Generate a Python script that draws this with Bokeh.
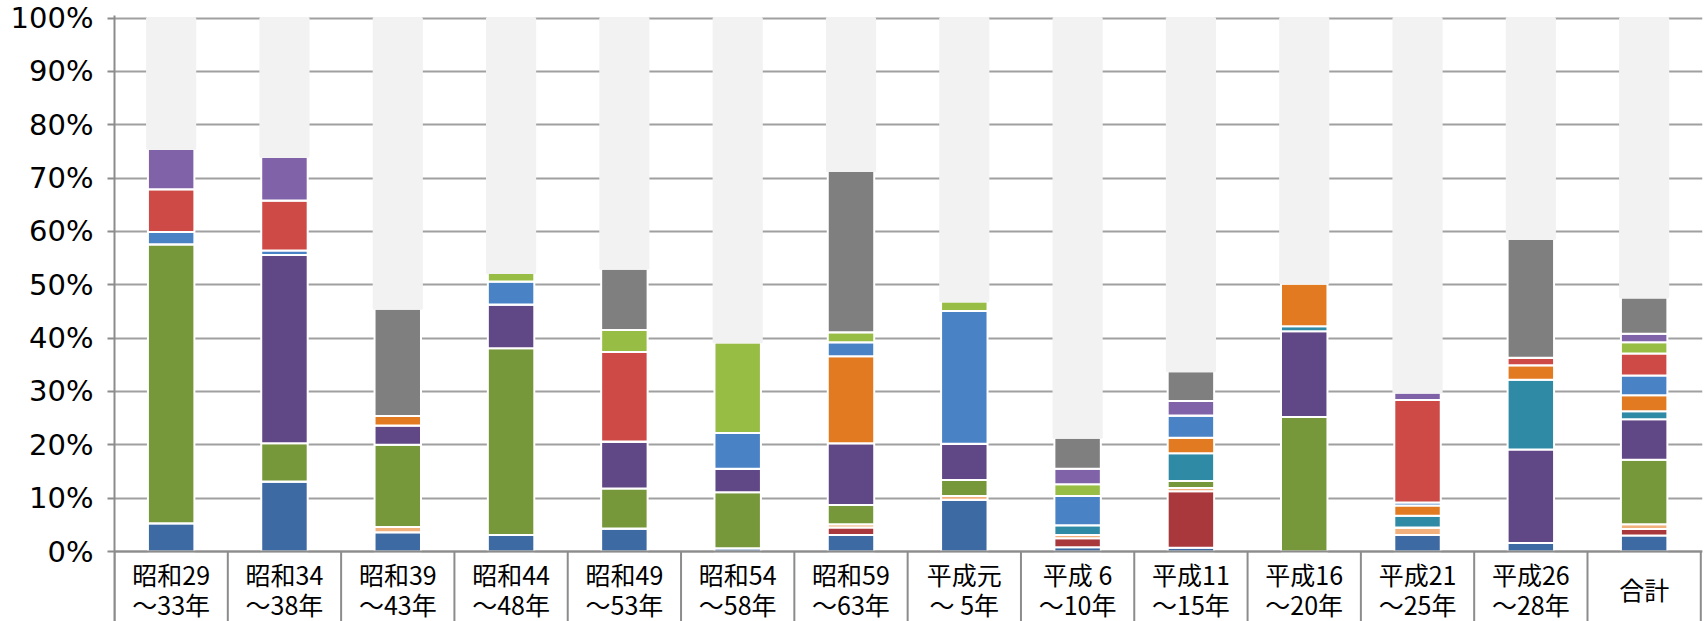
from bokeh.plotting import figure
from bokeh.models import ColumnDataSource, FixedTicker, Range1d, Span
from bokeh.embed import file_html
from bokeh.resources import INLINE
from bokeh.core.properties import value

# ---- data -------------------------------------------------------------
label_line1 = ["昭和29", "昭和34", "昭和39", "昭和44", "昭和49", "昭和54", "昭和59",
               "平成元", "平成 6", "平成11", "平成16", "平成21", "平成26"]
label_line2 = ["～33年", "～38年", "～43年", "～48年", "～53年", "～58年", "～63年",
               "～ 5年", "～10年", "～15年", "～20年", "～25年", "～28年"]
total_label = "合計"

s1 = [5.3, 13.1, 3.6, 3.1, 4.3, 0.6, 3.1, 9.7, 0.8, 0.7, 0.0, 3.1, 1.6, 3.0]
s2 = [0.0, 0.0, 0.0, 0.0, 0.0, 0.0, 1.4, 0.0, 1.7, 10.6, 0.0, 0.0, 0.0, 1.2]
s3 = [0.0, 0.0, 1.0, 0.0, 0.0, 0.0, 0.6, 0.7, 0.6, 0.6, 0.0, 1.4, 0.0, 0.9]
s4 = [52.3, 7.2, 15.4, 35.0, 7.5, 10.5, 3.6, 3.0, 0.0, 1.3, 25.2, 0.0, 0.0, 12.1]
s5 = [0.0, 35.3, 3.6, 8.2, 8.8, 4.4, 11.6, 6.8, 0.0, 0.0, 16.1, 0.0, 17.5, 7.6]
s6 = [0.0, 0.0, 0.0, 0.0, 0.0, 0.0, 0.0, 0.0, 1.8, 5.2, 0.9, 2.2, 13.1, 1.5]
s7 = [0.0, 0.0, 1.8, 0.0, 0.0, 0.0, 16.3, 0.0, 0.0, 2.9, 8.1, 1.9, 2.7, 3.0]
s8 = [2.3, 0.8, 0.0, 4.3, 0.0, 6.7, 2.6, 24.9, 5.5, 4.2, 0.0, 0.6, 0.0, 3.7]
s9 = [8.0, 9.4, 0.0, 0.0, 16.8, 0.0, 0.0, 0.0, 0.0, 0.0, 0.0, 19.2, 1.4, 4.1]
s10 = [0.0, 0.0, 0.0, 1.6, 4.1, 17.0, 1.9, 1.8, 2.2, 0.0, 0.0, 0.0, 0.0, 2.1]
s11 = [7.6, 8.2, 0.0, 0.0, 0.0, 0.0, 0.0, 0.0, 2.9, 2.7, 0.0, 1.4, 0.0, 1.6]
s12 = [0.0, 0.0, 20.1, 0.0, 11.5, 0.0, 30.2, 0.0, 5.8, 5.6, 0.0, 0.0, 22.3, 6.8]
rest = [24.5, 26.0, 54.5, 47.8, 47.0, 60.8, 28.7, 53.1, 78.7, 66.2, 49.7, 70.2, 41.4, 52.4]

y_ticks = [0, 10, 20, 30, 40, 50, 60, 70, 80, 90, 100]

# ---- styling ----------------------------------------------------------
series = ["s1", "s2", "s3", "s4", "s5", "s6", "s7", "s8", "s9", "s10", "s11", "s12", "rest"]
colors = ["#3d6aa3", "#a8383b", "#f2b07c", "#77973b", "#604785", "#2f8aa6", "#e27a22",
          "#4a82c6", "#cd4a46", "#98bd45", "#8062a9", "#7f7f7f", "#f2f2f2"]
axis_gray = "#8c8c8c"
label_font = value("Noto Sans CJK JP")

n = len(s1)
xs = [i + 0.5 for i in range(n)]
src = ColumnDataSource(data=dict(x=xs, s1=s1, s2=s2, s3=s3, s4=s4, s5=s5, s6=s6, s7=s7,
                                 s8=s8, s9=s9, s10=s10, s11=s11, s12=s12, rest=rest))
lab_src = ColumnDataSource(data=dict(x=xs[:-1], l1=label_line1, l2=label_line2))

# the frame reaches below 0 so the category "table" is drawn inside it
Y_BOTTOM = -13.12
p = figure(width=1707, height=621, x_range=Range1d(0, n + 0.015),
           y_range=Range1d(Y_BOTTOM, 100.47), output_backend="svg", toolbar_location=None,
           x_axis_location=None, title=None,
           min_border_left=114, min_border_right=5, min_border_top=15, min_border_bottom=0)
p.outline_line_color = None
p.background_fill_color = "white"

p.vbar_stack(series, x="x", source=src,
             width=[0.41] * 12 + [0.425],
             fill_color=colors,
             line_color=["white"] * 12 + ["#f2f2f2"],
             line_width=2)

# grid
p.xgrid.visible = False
p.ygrid.ticker = FixedTicker(ticks=y_ticks)
p.ygrid.grid_line_color = "#a0a0a0"
p.ygrid.grid_line_width = 2

# y axis
p.yaxis.ticker = FixedTicker(ticks=y_ticks)
p.yaxis.major_label_overrides = {t: f"{t}%" for t in y_ticks}
p.yaxis.major_label_text_font = "DejaVu Sans"
p.yaxis.major_label_text_font_size = "29px"
p.yaxis.major_label_text_color = "black"
p.yaxis.major_label_standoff = 14
p.yaxis.major_tick_out = 7
p.yaxis.major_tick_in = 0
p.yaxis.minor_tick_line_color = None
p.yaxis.axis_line_color = axis_gray
p.yaxis.axis_line_width = 2
p.yaxis.major_tick_line_color = axis_gray
p.yaxis.major_tick_line_width = 2

# baseline and category separators (table below the bars)
p.add_layout(Span(location=0, dimension="width", line_color=axis_gray, line_width=2))
bounds = list(range(n + 1))
p.segment(x0=bounds, y0=[Y_BOTTOM] * len(bounds), x1=bounds, y1=[0] * len(bounds),
          line_color=axis_gray, line_width=2)

# category labels
p.text(x="x", y=-4.31, text="l1", source=lab_src, text_align="center",
       text_baseline="middle", text_font=label_font, text_font_size="25px",
       text_color="black")
p.text(x="x", y=-9.75, text="l2", source=lab_src, text_align="center",
       text_baseline="middle", text_font=label_font, text_font_size="25px",
       text_color="black")
p.text(x=[xs[-1]], y=[-7.1], text=[total_label], text_align="center",
       text_baseline="middle", text_font=label_font, text_font_size="25px",
       text_color="black")

open("out.html", "w").write(file_html(p, INLINE))
